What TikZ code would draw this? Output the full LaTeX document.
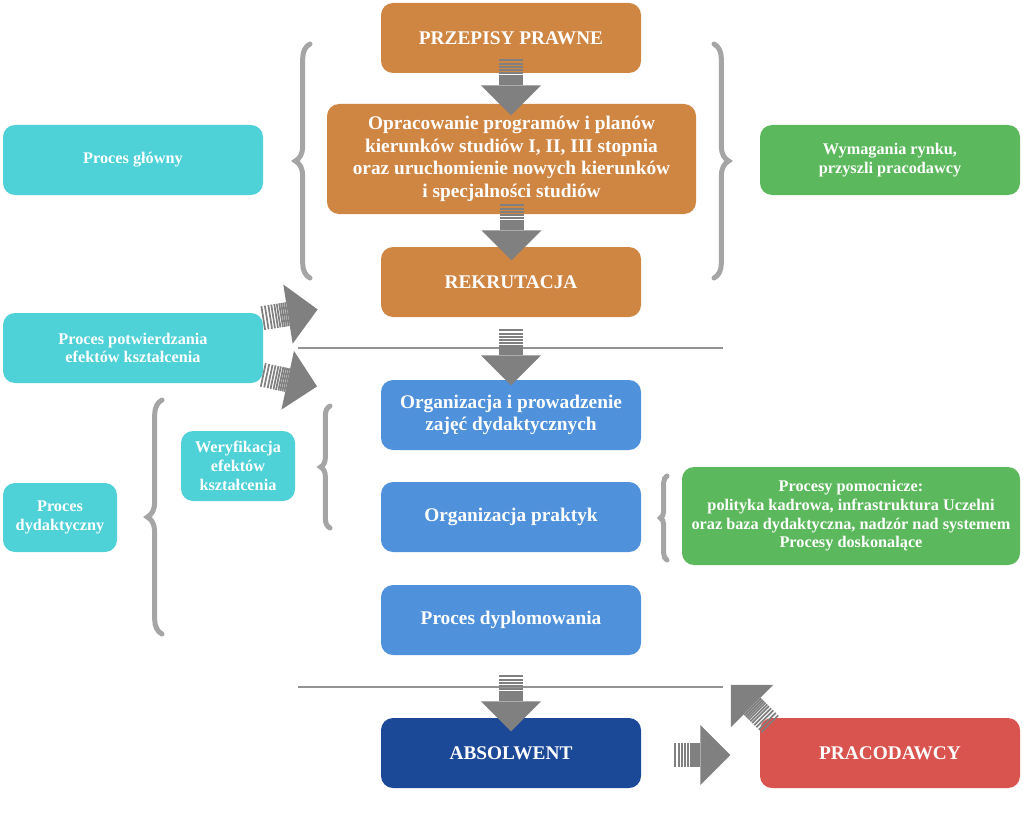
\documentclass[tikz,border=0pt]{standalone}
\usepackage{fontspec}
\setmainfont{Liberation Serif}
\usetikzlibrary{calc,decorations.pathreplacing}

\definecolor{orangebox}{RGB}{208,134,67}
\definecolor{bluebox}{RGB}{79,145,218}
\definecolor{darkbluebox}{RGB}{28,72,152}
\definecolor{redbox}{RGB}{217,83,79}
\definecolor{cyanbox}{RGB}{78,209,215}
\definecolor{greenbox}{RGB}{92,184,92}
\definecolor{arrowgray}{RGB}{128,128,128}
\definecolor{bracegray}{RGB}{165,165,165}

\tikzset{
  box/.style={rounded corners=9pt, align=center, text=white, inner sep=2pt},
  mainbox/.style={box, minimum width=195pt, minimum height=52.5pt, font=\fontsize{14.5}{17}\selectfont\bfseries},
  sidebox/.style={box, minimum width=195pt, minimum height=52.5pt, font=\fontsize{12.2}{14}\selectfont\bfseries},
  bracket/.style={draw=bracegray, line width=3.75pt, line cap=round, decorate, decoration={brace, amplitude=#1}},
  sepline/.style={draw=arrowgray!85, line width=1.1pt}
}

% block arrow with striped tail: #1 start point, #2 angle (clockwise, y down)
\newcommand{\garrow}[2]{%
  \begin{scope}[shift={#1}, rotate=#2]
    \foreach \i in {0,3.5,7,10,13,15.5,18,20,22,24}
      \draw[arrowgray, line width=1.3pt] (\i,-12) -- (\i,12);
    \fill[arrowgray] (25,-30) -- (55,0) -- (25,30) -- cycle;
  \end{scope}}

\begin{document}
\begin{tikzpicture}[x=0.75pt,y=0.75pt,yscale=-1,xscale=1]
  \useasboundingbox (0,0) rectangle (1023,813);

  %Main column
  \node[mainbox, fill=orangebox] (przepisy) at (511,38) {PRZEPISY PRAWNE};
  \node[mainbox, fill=orangebox, minimum width=276.75pt, minimum height=82.5pt] (programy) at (511.5,159)
    {Opracowanie programów i planów\\kierunków studiów I, II, III stopnia\\oraz uruchomienie nowych kierunków\\i specjalności studiów};
  \node[mainbox, fill=orangebox] (rekrutacja) at (511,282) {REKRUTACJA};
  \node[mainbox, fill=bluebox] (zajecia) at (511,415) {Organizacja i prowadzenie\\zajęć dydaktycznych};
  \node[mainbox, fill=bluebox] (praktyki) at (511,517) {Organizacja praktyk};
  \node[mainbox, fill=bluebox] (dyplom) at (511,620) {Proces dyplomowania};
  \node[mainbox, fill=darkbluebox] (absolwent) at (511,753) {ABSOLWENT};
  \node[mainbox, fill=redbox] (pracodawcy) at (890,753) {PRACODAWCY};

  %Side boxes
  \node[sidebox, fill=cyanbox] (glowny) at (133,160) {Proces główny};
  \node[sidebox, fill=cyanbox] (potwierdzanie) at (133,348) {Proces potwierdzania\\efektów kształcenia};
  \node[sidebox, fill=cyanbox, minimum width=85.5pt, minimum height=51.75pt] (dydaktyczny) at (60,517.5) {Proces\\dydaktyczny};
  \node[sidebox, fill=cyanbox, minimum width=85.5pt, minimum height=52.5pt] (weryfikacja) at (238,466) {Weryfikacja\\efektów\\kształcenia};
  \node[sidebox, fill=greenbox] (rynek) at (890,160) {Wymagania rynku,\\przyszli pracodawcy};
  \node[sidebox, fill=greenbox, minimum width=253.5pt, minimum height=73.5pt] (pomocnicze) at (851,516)
    {Procesy pomocnicze:\\polityka kadrowa, infrastruktura Uczelni\\oraz baza dydaktyczna, nadzór nad systemem\\Procesy doskonalące};

  %Separator lines
  \draw[sepline] (298,348) -- (723,348);
  \draw[sepline] (298,687) -- (723,687);

  %Braces
  \draw[bracket=11pt] (310,278) -- (310,44);
  \draw[bracket=11pt] (714,44) -- (714,278);
  \draw[bracket=11pt] (162,634) -- (162,400);
  \draw[bracket=7pt] (330,528) -- (330,406);
  \draw[bracket=5pt] (667,560) -- (667,476);

  %Block arrows
  \garrow{($(przepisy.south)+(0,-13)$)}{90}
  \garrow{($(programy.south)+(0,-9)$)}{90}
  \garrow{($(rekrutacja.south)+(0,13)$)}{90}
  \garrow{($(dyplom.south)+(0,21)$)}{90}
  \garrow{($(potwierdzanie.east)+(0,-30)$)}{-9}
  \garrow{($(potwierdzanie.east)+(0,27)$)}{12}
  \garrow{($(absolwent.east)+(34,2)$)}{0}
  \garrow{($(pracodawcy.north west)+(10,6)$)}{225}
\end{tikzpicture}
\end{document}
